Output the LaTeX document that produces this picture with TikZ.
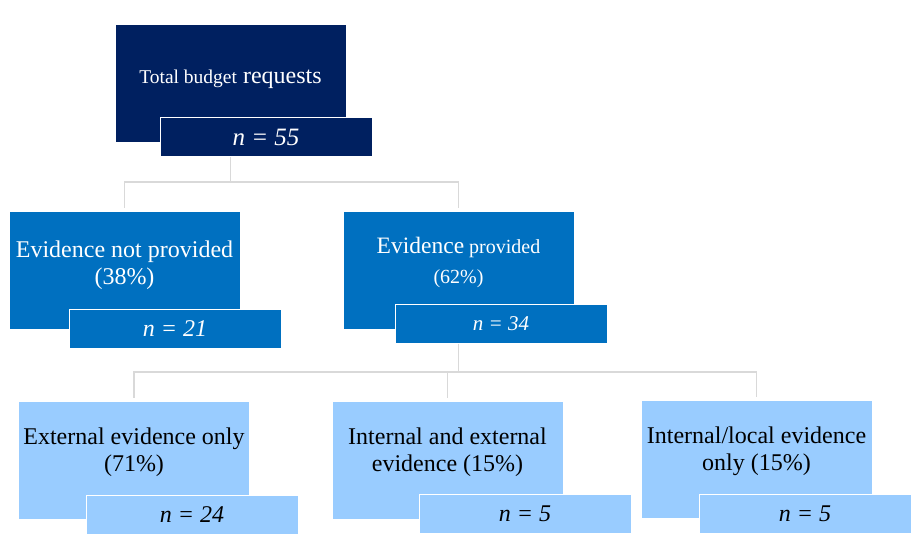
\documentclass[tikz,border=0pt]{standalone}
\usepackage{fontspec}
\setmainfont{Liberation Serif}
\usetikzlibrary{calc}

\definecolor{navy}{HTML}{002060}
\definecolor{midblue}{HTML}{0070C0}
\definecolor{paleblue}{HTML}{99CCFF}
\definecolor{linkgrey}{HTML}{D9D9D9}

\begin{document}
\begin{tikzpicture}[x=1pt, y=-1pt,
        bigbox/.style={rectangle, minimum width=231pt, minimum height=118pt, inner sep=0pt,
            align=center, text depth=20pt, draw=white, line width=0.6pt,
            font=\fontsize{24}{27}\selectfont},
        nbox/.style={rectangle, minimum width=212pt, minimum height=39pt, inner sep=0pt,
            draw=white, line width=1pt, font=\fontsize{24}{27}\selectfont\itshape},
        link/.style={draw=linkgrey, line width=1.8pt}]

                \useasboundingbox (0,0) rectangle (913,543);

                % Top level: all requests
                \node[bigbox, fill=navy, text=white, text depth=12pt] (total) at (230.5,83) {{\fontsize{19.5}{23}\selectfont Total budget} requests};
                \node[nbox, fill=navy, text=white, font=\fontsize{25}{28}\selectfont\itshape] (n55) at (266,137) {n = 55};

                % Second level: evidence or not
                \node[bigbox, fill=midblue, text=white, text depth=16pt] (noev) at (124.5,270.5) {Evidence not provided\\(38\%)};
                \node[nbox, fill=midblue, text=white] (n21) at (175,328.5) {n = 21};
                \node[bigbox, fill=midblue, text=white, font=\fontsize{20}{24}\selectfont] (ev) at (458.5,270.5) {{\fontsize{23.5}{27}\selectfont Evidence} provided\\[6pt](62\%)};
                \node[nbox, fill=midblue, text=white, font=\fontsize{21}{24}\selectfont\itshape] (n34) at (501,323.5) {n = 34};

                % Third level: kind of evidence
                \node[bigbox, fill=paleblue] (ext) at (134,460) {External evidence only\\(71\%)};
                \node[nbox, fill=paleblue] (n24) at (192,514.5) {n = 24};
                \node[bigbox, fill=paleblue] (both) at (447.5,460) {Internal and external\\evidence (15\%)};
                \node[nbox, fill=paleblue] (n5a) at (525,513.5) {n = 5};
                \node[bigbox, fill=paleblue] (intl) at (756.5,459) {Internal/local evidence\\only (15\%)};
                \node[nbox, fill=paleblue] (n5b) at (805,514) {n = 5};

                % Connectors
                \coordinate (j1) at (total |- 0,182);
                \coordinate (j2) at (ev |- 0,372);
                \draw[link] (total |- n55.south) -- (j1);
                \draw[link, shorten >=3pt] (j1) -| (noev.north);
                \draw[link, shorten >=3pt] (j1) -| (ev.north);
                \draw[link] (ev |- n34.south) -- (j2);
                \draw[link, shorten >=3pt] (j2) -| (ext.north);
                \draw[link, shorten >=3pt] (j2) -| (both.north);
                \draw[link, shorten >=3pt] (j2) -| (intl.north);
            \end{tikzpicture}
\end{document}
